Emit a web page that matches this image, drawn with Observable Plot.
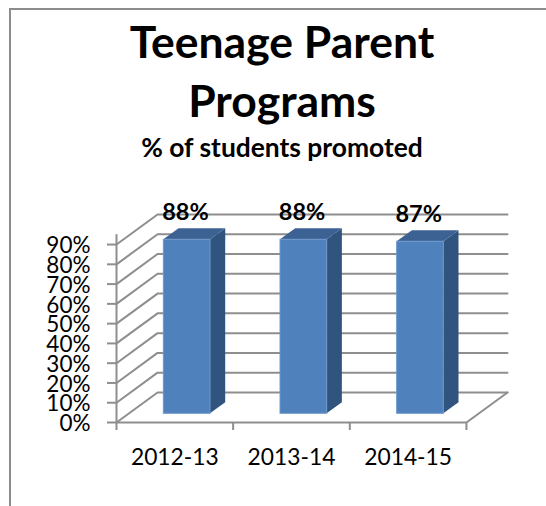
<!DOCTYPE html>
<html><head><meta charset="utf-8">
<script src="https://cdn.jsdelivr.net/npm/d3@7"></script>
<script src="https://cdn.jsdelivr.net/npm/@observablehq/plot@0.6"></script>
<style>
html,body{margin:0;padding:0;background:#fff;width:546px;height:506px;overflow:hidden}
#frame{position:absolute;left:9px;top:8px;right:-5px;bottom:-5px;border-left:2px solid #8c8c8c;border-top:2px solid #8c8c8c}
#head{position:relative;height:190px;font-family:Lato,sans-serif;font-weight:700;color:#000;text-align:center}
#t{position:absolute;left:9px;width:546px;top:11px;font-size:44.5px;line-height:59px;white-space:nowrap}
#s{position:absolute;left:9px;width:546px;top:132px;font-size:26.4px;line-height:30px}
#chart{position:relative}
svg{display:block;overflow:visible}
</style></head>
<body>
<div id="frame"></div>
<div id="head"><div id="t">Teenage Parent<br>Programs</div><div id="s">% of students promoted</div></div>
<div id="chart"></div>
<script>
const categories = ["2012-13","2013-14","2014-15"];
const promoted = [88,88,87];
const yTicks = [0,10,20,30,40,50,60,70,80,90];

// oblique depth of the 3-D box, in data units
const depthX = 0.352, depthY = 15.2;
const project = (pos, v, d) => ({x: pos + d*depthX, y: v + d*depthY});
const barStart = 0.304, barWidth = 0.4, dFront = 0.29, dBack = 0.66;

const grey = "#8e8e8e";
const walls = yTicks.flatMap(t => {
  const a = project(0,t,0), b = project(0,t,1), c = project(3,t,1);
  return [{...a,k:t},{...b,k:t},{...c,k:t}];
});
const floorEdge = [project(3,0,0), project(3,0,1)];

const bars = promoted.map((v,i)=>({i,v,x0:i+barStart,x1:i+barStart+barWidth}));
const front = bars.map(b=>{
  const p=project(b.x0,0,dFront), q=project(b.x1,b.v,dFront);
  return {x1:p.x,x2:q.x,y1:p.y,y2:q.y};
});
const side = bars.flatMap(b=>{
  const p=project(b.x1,0,dFront), q=project(b.x1,0,dBack);
  return [{x:p.x,y1:p.y,y2:p.y+b.v,k:b.i},{x:q.x,y1:q.y,y2:q.y+b.v,k:b.i}];
});
const topFace = bars.flatMap(b=>{
  const a=project(b.x0,b.v,dFront), c=project(b.x1,b.v,dFront), d=project(b.x0,b.v,dBack), e=project(b.x1,b.v,dBack);
  return [{x:a.x,y1:a.y,y2:a.y,k:b.i},{x:d.x,y1:a.y,y2:d.y,k:b.i},{x:c.x,y1:c.y,y2:d.y,k:b.i},{x:e.x,y1:e.y,y2:e.y,k:b.i}];
});
const labels = bars.map(b=>({x:b.x0+barWidth/2+dFront*depthX-0.015,y:b.v,text:b.v+"%"}));
const catLabels = categories.map((c,i)=>({x:i+0.5,text:c}));

const plot = Plot.plot({
  width:546,height:316,marginLeft:116,marginRight:39,marginTop:24,marginBottom:84,
  style:{background:"transparent",fontFamily:"Lato, sans-serif"},
  x:{domain:[0,3+depthX],axis:null},
  y:{domain:[0,90+depthY],axis:null},
  marks:[
    Plot.line(walls,{x:"x",y:"y",z:"k",stroke:grey,strokeWidth:2}),
    Plot.line(floorEdge,{x:"x",y:"y",stroke:grey,strokeWidth:2}),
    Plot.ruleY([0],{x1:0,x2:3,stroke:grey,strokeWidth:2}),
    Plot.ruleX([0],{y1:0,y2:95,stroke:grey,strokeWidth:2}),
    Plot.axisY({ticks:yTicks,anchor:"left",tickSize:9,stroke:grey,strokeWidth:2,label:null,tickFormat:null,text:null}),
    Plot.axisY({ticks:yTicks,anchor:"left",tickSize:0,tickPadding:26,dy:1.5,fill:"#000",fontSize:22.5,tickFormat:d=>d+"%",label:null}),
    Plot.axisX({ticks:[0,1,2,3],anchor:"bottom",tickSize:8,tickFormat:()=>"",stroke:grey,strokeWidth:2,label:null}),
    Plot.areaY(side,{x:"x",y1:"y1",y2:"y2",z:"k",fill:"#31547e",curve:"linear"}),
    Plot.areaY(topFace,{x:"x",y1:"y1",y2:"y2",z:"k",fill:"#3c6293",curve:"linear"}),
    Plot.rect(front,{x1:"x1",x2:"x2",y1:"y1",y2:"y2",fill:"#4f81bd",stroke:"#6c97cb",strokeWidth:1}),
    Plot.text(labels,{x:"x",y:"y",text:"text",dy:-36,fontWeight:700,fontSize:23.5,fill:"#000",stroke:"none"}),
    Plot.text(catLabels,{x:"x",y:0,text:"text",dy:35,fontSize:22.8,fill:"#000"})
  ]
});
document.getElementById("chart").append(plot);
</script>
</body></html>
